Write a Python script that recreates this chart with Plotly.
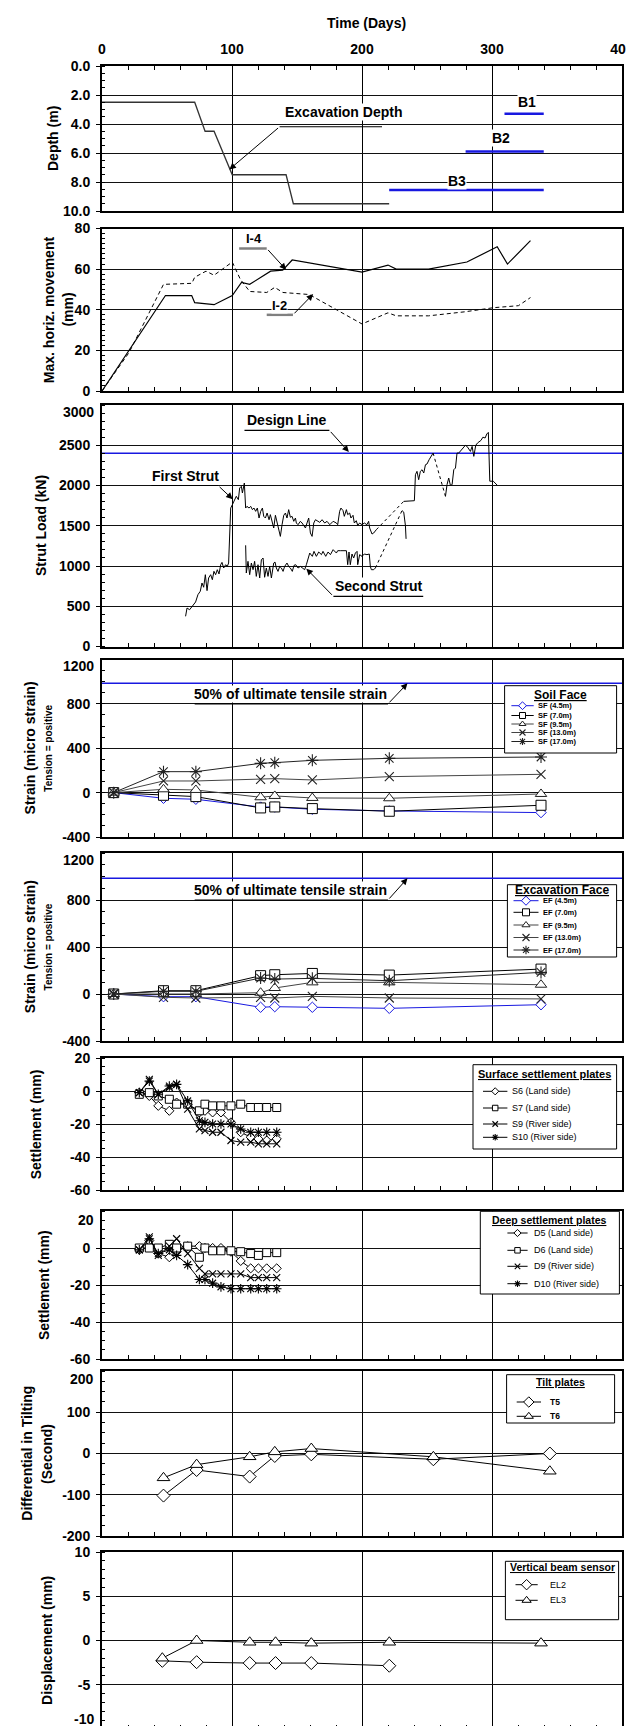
import plotly.graph_objects as go

# ======================= DATA =======================
# Panel 1: excavation depth (m) vs time (days)
exc_days = [0, 71.3, 79.3, 86.2, 100.2, 141.6, 147.2, 220.9]
exc_depth = [2.5, 2.5, 4.5, 4.5, 7.5, 7.5, 9.5, 9.5]
b_labels = ["B1", "B2", "B3"]
b_start = [309.6, 279.7, 220.9]
b_end = [339.8, 339.8, 339.8]
b_depth = [3.3, 5.9, 8.55]

# Panel 2: max horizontal movement (mm)
i4_days = [0, 48.8, 69.0, 71.3, 86.2, 100.2, 107.3, 113.6, 129.7, 139.0, 146.3, 200.0, 220.0, 226.3, 251.2, 280.7, 304.0, 311.9, 329.6]
i4_vals = [0, 47.0, 47.0, 43.5, 42.5, 47.0, 53.5, 52.5, 59.0, 59.5, 64.5, 58.5, 62.0, 60.0, 60.0, 63.5, 71.0, 62.5, 74.0]
i2_days = [0, 20.9, 47.3, 69.1, 71.3, 80.0, 86.2, 100.2, 106.4, 113.6, 126.7, 132.9, 139.1, 159.4, 200.0, 220.0, 226.3, 251.2, 279.2, 301.0, 320.3, 329.6]
i2_vals = [0, 19.0, 52.5, 53.0, 56.0, 59.0, 57.0, 63.5, 55.0, 49.0, 48.5, 51.0, 48.5, 47.5, 33.0, 38.5, 37.0, 37.0, 39.0, 41.0, 42.0, 46.0]

# Panel 3: strut load (kN)
design_load = 2400
fsA_days = [64.3, 65.4, 67.4, 70.0, 72.0, 73.8, 75.6, 76.9, 78.2, 79.5, 80.8, 82.0, 83.6, 84.9, 86.1, 87.4, 88.7, 90.0, 91.3, 92.3,
            93.6, 95.1, 96.4, 97.4, 98.2, 99.0, 100.3, 101.8, 103.3, 104.9, 105.9, 107.2, 108.0, 109.5, 110.5, 111.5, 113.1, 114.4, 115.7, 116.9,
            118.2, 119.5, 120.8, 122.1, 123.4, 124.4, 125.7, 127.0, 128.5, 129.5, 130.8, 132.1, 133.4, 134.6, 135.9, 137.2, 138.5, 139.8, 141.1, 142.3,
            143.6, 144.9, 146.2, 147.5, 148.8, 149.5, 150.8, 152.6, 153.9, 155.2, 156.5, 157.7, 159.0, 160.3, 161.6, 162.9, 164.2, 165.4, 167.5, 169.3,
            171.3, 173.1, 175.2, 177.8, 180.3, 181.3, 182.8, 183.8, 185.4, 186.4, 188.0, 189.0, 190.5, 191.5, 193.1, 194.1, 195.6, 196.7, 198.2, 200.0,
            201.8, 203.8, 205.1, 205.9, 207.7, 209.0, 211.0]
fsA_vals = [375, 478, 457, 520, 553, 644, 686, 789, 736, 892, 694, 851, 892, 830, 934, 892, 954, 901, 1016, 1045,
            975, 1016, 995, 1037, 1472, 1720, 1762, 1824, 1866, 1824, 1969, 1990, 1907, 2031, 1720, 1741, 1720, 1741, 1700, 1720,
            1679, 1720, 1596, 1679, 1720, 1617, 1596, 1658, 1575, 1638, 1534, 1472, 1630, 1555, 1451, 1368, 1513, 1630, 1658, 1596,
            1700, 1605, 1617, 1555, 1596, 1534, 1513, 1555, 1534, 1493, 1472, 1534, 1596, 1410, 1368, 1534, 1575, 1563, 1542, 1575,
            1534, 1555, 1513, 1555, 1534, 1513, 1679, 1720, 1688, 1617, 1700, 1638, 1658, 1596, 1630, 1534, 1563, 1505, 1534, 1513,
            1534, 1513, 1555, 1472, 1397, 1410, 1451]
fsB_days = [232.1, 240.3, 241.1, 242.3, 243.6, 244.9, 246.2, 247.5, 248.8, 250.0, 251.6, 253.1, 254.7]
fsB_vals = [1803, 1811, 2134, 2176, 2072, 2176, 2196, 2155, 2258, 2267, 2320, 2362, 2403]
fsC_days = [264.2, 265.4, 266.7, 268.0, 269.3, 270.6, 271.9, 273.1, 274.4, 279.5, 280.8, 283.4, 284.7, 286.0, 287.5, 289.0,
            291.5, 293.0, 294.7, 296.0, 297.2, 298.3, 301.0, 302.0, 304.0]
fsC_vals = [1865, 2010, 2093, 2002, 2010, 2196, 2217, 2403, 2403, 2499, 2486, 2424, 2486, 2362, 2500, 2530,
            2560, 2600, 2590, 2640, 2660, 2053, 2053, 2040, 2004]
ssA_days = [110.5, 111.0, 112.3, 113.6, 114.9, 116.2, 117.4, 118.7, 120.0, 121.3, 122.6, 123.9, 125.1, 126.4, 127.7, 129.0,
            130.3, 132.1, 133.1, 134.1, 135.4, 136.7, 138.0, 139.3, 140.5, 142.3, 143.6, 144.9, 146.4, 147.7, 149.0, 150.8,
            152.6, 154.7, 155.9, 157.2, 158.5, 159.8, 161.8, 163.1, 164.9, 166.7, 168.8, 170.0, 172.1, 173.9, 175.7, 177.8,
            180.3, 181.3, 183.3, 185.9, 188.0, 189.0, 190.0, 191.0, 192.3, 193.6, 194.9, 196.2, 196.7, 198.2, 200.0, 201.8,
            203.8, 205.6, 206.4, 207.2, 209.0, 210.3]
ssA_vals = [1257, 913, 1058, 892, 1037, 954, 1058, 871, 1016, 851, 1078, 1099, 860, 975, 871, 995,
            851, 1037, 1049, 975, 933, 995, 975, 933, 995, 1037, 995, 975, 933, 1008, 1016, 975,
            995, 966, 954, 1016, 1099, 1161, 1120, 1182, 1120, 1174, 1141, 1182, 1120, 1174, 1141, 1203,
            1161, 1190, 1190, 1190, 1190, 1016, 1174, 1016, 1149, 1099, 1161, 1182, 1016, 1141, 1120, 1149,
            1141, 1149, 995, 954, 954, 975]
ssB_days = [230.8, 232.1, 233.4, 233.9]
ssB_vals = [1689, 1669, 1503, 1337]

# Panels 4 & 5: strain (micro strain)
ult_strain = 985
strain_days = [9.0, 47.3, 72.2, 122.0, 132.9, 161.8, 221.0, 337.7]
sf_names = ["SF (4.5m)", "SF (7.0m)", "SF (9.5m)", "SF (13.0m)", "SF (17.0m)"]
sf45 = [0, -51, -60, -130, -130, -150, -165, -180]
sf70 = [0, -24, -36, -138, -129, -144, -168, -114]
sf95 = [0, 30, 24, -42, -30, -48, -51, -12]
sf130 = [0, 105, 105, 120, 126, 114, 144, 165]
sf170 = [0, 189, 189, 264, 270, 291, 309, 321]
ef_names = ["EF (4.5m)", "EF (7.0m)", "EF (9.5m)", "EF (13.0m)", "EF (17.0m)"]
ef45 = [0, -23, -23, -113, -108, -113, -122, -91]
ef70 = [0, 28, 28, 156, 164, 175, 161, 212]
ef95 = [0, 0, 0, 11, 51, 99, 99, 79]
ef130 = [0, -28, -34, -28, -34, -20, -34, -42]
ef170 = [0, 23, 23, 136, 127, 133, 113, 184]

# Panels 6 & 7: settlement (mm)
settle_days = [28.7, 36.4, 43.3, 51.8, 57.4, 65.9, 74.9, 79.2, 85.1, 91.5, 99.2, 106.7, 114.4, 120.3, 126.7, 134.4]
surf_names = ["S6 (Land side)", "S7 (Land side)", "S9 (River side)", "S10 (River side)"]
s6 = [-1, -3, -9, -12, -7, -8, -13, -12, -13, -13, -19, -25, -28, -29, -30, -29]
s7 = [-2, -1, -3, -5, -8, -8, -12, -8, -9, -9, -9, -8, -10, -10, -10, -10]
s9 = [-1, 7, -2, 2, 4, -11, -23, -24, -25, -25, -30, -31, -31, -32, -32, -32]
s10 = [-1, 6, -2, 3, 4, -6, -18, -19, -20, -20, -20, -23, -25, -25, -25, -25]
deep_names = ["D5 (Land side)", "D6 (Land side)", "D9 (River side)", "D10 (River side)"]
d5 = [-1, 4, -3, -5, -2, 1, 1, 0, 0, 0, -2, -7, -11, -11, -11, -11]
d6 = [0, 0, 0, 2, 0, 1, -5, 0, -1.5, -1.5, -1.5, -2, -3, -4, -2.5, -2.5]
d9 = [-1, 6, -4, 1, 5, -3, -11, -14, -14, -14, -14, -14, -16, -16, -16, -16]
d10 = [-1, 5, -3, -1, -4, -9, -17, -17, -19, -21, -22, -22, -22, -22, -22, -22]

# Panel 8: differential tilting (seconds)
tilt_days = [47.3, 72.8, 113.6, 132.9, 161.0, 254.9, 344.5]
tilt_names = ["T5", "T6"]
t5 = [-102, -40, -56, -6, -2, -14, 0]
t6 = [-59, -27, -8, 4, 12, -8, -43]

# Panel 9: vertical beam sensor displacement (mm)
beam_names = ["EL2", "EL3"]
el2_days = [46.4, 72.8, 113.6, 133.5, 161.0, 221.0]
el2 = [-2.3, -2.45, -2.55, -2.55, -2.55, -2.85]
el3_days = [46.4, 72.8, 113.6, 133.5, 161.0, 221.0, 337.7]
el3 = [-2.0, 0.0, -0.2, -0.2, -0.3, -0.2, -0.3]

# ======================= LAYOUT =======================
W, H = 634, 1726
ML, MR = 94, 20
FONT = "Liberation Sans, Arial, sans-serif"
BLUE = "#1818e0"


def fx(px):
    return (px - ML) / (W - ML - MR)


def fy(py):
    return 1 - py / H


def xr(n):
    return "x" if n == 1 else f"x{n}"


def yr(n):
    return "y" if n == 1 else f"y{n}"


panel_px = [(58, 203), (220.5, 383), (397, 638.5), (651.5, 829), (845, 1033),
            (1050, 1182), (1203, 1351), (1363, 1528), (1544, 1721)]
y_ranges = [[10, 0], [0, 80], [0, 3000], [-400, 1200], [-400, 1200], [-60, 20], [-60, 20], [-200, 200], [-10, 10]]
y_dticks = [2, 20, 500, 400, 400, 20, 20, 100, 5]
y_minor = [0.5, 2.5, 100, 100, 100, 5, 5, 25, 1]
# edge tick labels that the original prints slightly inside the frame: (panel, value, label y in px)
edge_labels = [(3, 3000, 404), (4, 1200, 658), (5, 1200, 852), (7, 20, 1212), (8, 200, 1371), (9, -10, 1711)]

fig = go.Figure()


def add_line(n, x, y, color="black", width=1.0, dash="solid"):
    fig.add_trace(go.Scatter(x=x, y=y, mode="lines", line=dict(color=color, width=width, dash=dash),
                             xaxis=xr(n), yaxis=yr(n), showlegend=False, hoverinfo="skip"))


def marker_of(st, size):
    if st["sym"] in ("x-thin", "asterisk"):
        return dict(symbol=st["sym"], size=size, color=st["mc"], line=dict(color=st["mc"], width=1.1))
    return dict(symbol=st["sym"], size=size, color="white", line=dict(color=st["mc"], width=1))


def add_series(n, x, y, st):
    fig.add_trace(go.Scatter(x=x, y=y, mode="lines+markers", line=dict(color=st["lc"], width=1),
                             marker=marker_of(st, st["size"]), xaxis=xr(n), yaxis=yr(n),
                             showlegend=False, hoverinfo="skip"))


# ---- panel 1
add_line(1, exc_days, exc_depth, color="#333333", width=1.3)
for s, e, d in zip(b_start, b_end, b_depth):
    add_line(1, [s, e], [d, d], color=BLUE, width=2.5)

# ---- panel 2
add_line(2, i4_days, i4_vals, color="black", width=1.2)
add_line(2, i2_days, i2_vals, color="black", width=1.0, dash="4px,3px")

# ---- panel 3
add_line(3, [0, 400], [design_load, design_load], color=BLUE, width=1.5)
add_line(3, fsA_days, fsA_vals)
add_line(3, [fsA_days[-1], fsB_days[0]], [fsA_vals[-1], fsB_vals[0]], dash="3px,3px")
add_line(3, fsB_days, fsB_vals)
add_line(3, [fsB_days[-1], fsC_days[0]], [fsB_vals[-1], fsC_vals[0]], dash="3px,3px")
add_line(3, fsC_days, fsC_vals)
add_line(3, ssA_days, ssA_vals)
add_line(3, [ssA_days[-1], ssB_days[0]], [ssA_vals[-1], ssB_vals[0]], dash="3px,3px")
add_line(3, ssB_days, ssB_vals)

# ---- panels 4 & 5
strain_styles = [
    dict(sym="diamond", mc=BLUE, lc=BLUE, size=8),
    dict(sym="square", mc="black", lc="black", size=10),
    dict(sym="triangle-up", mc="#222222", lc="#444444", size=10),
    dict(sym="x-thin", mc="#222222", lc="#444444", size=9),
    dict(sym="asterisk", mc="#222222", lc="#222222", size=10),
]
for n, series in ((4, [sf45, sf70, sf95, sf130, sf170]), (5, [ef45, ef70, ef95, ef130, ef170])):
    add_line(n, [0, 400], [ult_strain, ult_strain], color=BLUE, width=1.5)
    for vals, st in zip(series, strain_styles):
        add_series(n, strain_days, vals, st)

# ---- panels 6 & 7
settle_styles = [
    dict(sym="diamond", mc="black", lc="black", size=7),
    dict(sym="square", mc="black", lc="black", size=8),
    dict(sym="x-thin", mc="black", lc="black", size=7),
    dict(sym="asterisk", mc="black", lc="black", size=8),
]
for vals, st in zip([s6, s7, s9, s10], settle_styles):
    add_series(6, settle_days, vals, st)
for vals, st in zip([d5, d6, d9, d10], settle_styles):
    add_series(7, settle_days, vals, st)

# ---- panel 8 & 9
pair_styles = [
    dict(sym="diamond", mc="black", lc="black", size=10),
    dict(sym="triangle-up", mc="black", lc="black", size=11),
]
add_series(8, tilt_days, t5, pair_styles[0])
add_series(8, tilt_days, t6, pair_styles[1])
add_series(9, el2_days, el2, pair_styles[0])
add_series(9, el3_days, el3, pair_styles[1])


def ann_font(size, bold=True):
    return dict(family=FONT, size=size, color="black", weight="bold" if bold else "normal")


def fmt(n, v):
    return f"{v:.1f}" if n == 1 else f"{v:g}"


# ---- axes
tickfont = dict(family=FONT, size=14, color="black", weight="bold")
for i in range(9):
    n = i + 1
    top, bot = panel_px[i]
    lo, hi = min(y_ranges[i]), max(y_ranges[i])
    skip = [v for (p, v, _) in edge_labels if p == n]
    k = 0
    tv = []
    while lo + k * y_dticks[i] <= hi + 1e-9:
        v = lo + k * y_dticks[i]
        if v not in skip:
            tv.append(v)
        k += 1
    tt = [fmt(n, v) for v in tv]
    xa = dict(type="linear", domain=[0, 1], anchor=yr(n), range=[0, 400], dtick=100, tick0=0, showgrid=True,
              gridcolor="black", gridwidth=1, showline=True, linecolor="black", linewidth=2,
              mirror=True, ticks="inside", ticklen=5, tickcolor="black", zeroline=False,
              showticklabels=(n == 1), side="top" if n == 1 else "bottom", tickfont=tickfont,
              ticklabelstandoff=4,
              minor=dict(dtick=20, ticks="inside", ticklen=4, tickcolor="black", showgrid=False))
    ya = dict(type="linear", domain=[fy(bot), fy(top)], anchor=xr(n), range=y_ranges[i],
              tickmode="array", tickvals=tv, ticktext=tt, ticklabelstandoff=3,
              showgrid=True, gridcolor="#111111", gridwidth=1, showline=True, linecolor="black",
              linewidth=2, mirror=True, ticks="outside", ticklen=4, tickcolor="black", zeroline=False,
              tickfont=tickfont,
              minor=dict(tickmode="linear", tick0=0, dtick=y_minor[i], ticks="inside", ticklen=3,
                         tickcolor="black", showgrid=False))
    fig.layout[("xaxis" if n == 1 else f"xaxis{n}")] = xa
    fig.layout[("yaxis" if n == 1 else f"yaxis{n}")] = ya

for p, v, py in edge_labels:
    fig.add_annotation(xref="paper", yref="paper", x=fx(ML - 7.5), y=fy(py), text=fmt(p, v), showarrow=False,
                       font=tickfont, xanchor="right", yanchor="middle", borderpad=0)

# overlay pixel axes for the hand-built legends
fig.layout["xaxis10"] = dict(domain=[0, 1], range=[ML, W - MR], visible=False, anchor="y10", fixedrange=True)
fig.layout["yaxis10"] = dict(domain=[0, 1], range=[H, 0], visible=False, anchor="x10", fixedrange=True)

# ---- titles
fig.add_annotation(xref="paper", yref="paper", x=fx(358), y=fy(15), text="Time (Days)", showarrow=False,
                   font=ann_font(14), xanchor="center", yanchor="middle")
ytitles = [
    (1, "Depth (m)", 44.5, 14),
    (2, "Max. horiz. movement", 40.4, 14), (2, "(mm)", 59.8, 14),
    (3, "Strut Load (kN)", 32.3, 14),
    (4, "Strain (micro strain)", 22.2, 14), (4, "Tension = positive", 40.4, 10),
    (5, "Strain (micro strain)", 22.2, 14), (5, "Tension = positive", 40.4, 10),
    (6, "Settlement (mm)", 28.3, 14),
    (7, "Settlement (mm)", 36.0, 14),
    (8, "Differential in Tilting", 18.2, 14), (8, "(Second)", 38.4, 14),
    (9, "Displacement (mm)", 38.4, 14),
]
for n, txt, px, sz in ytitles:
    top, bot = panel_px[n - 1]
    fig.add_annotation(xref="paper", yref="paper", x=fx(px), y=fy((top + bot) / 2), text=txt, textangle=-90,
                       showarrow=False, font=ann_font(sz), xanchor="center", yanchor="middle")


def callout(n, text, tx, ux0, ux1, uy, tip, from_left, ty=None, size=14, ulc="black", ulw=1.2):
    xx, yy = xr(n), yr(n)
    if ty is None:
        fig.add_annotation(xref=xx, yref=yy, x=tx, y=uy, yshift=1, text=text, showarrow=False, font=ann_font(size),
                           bgcolor="white", borderpad=0, xanchor="center", yanchor="bottom")
    else:
        fig.add_annotation(xref=xx, yref=yy, x=tx, y=ty, text=text, showarrow=False, font=ann_font(size),
                           bgcolor="white", borderpad=0, xanchor="center", yanchor="middle")
    fig.add_shape(type="line", xref=xx, yref=yy, x0=ux0, x1=ux1, y0=uy, y1=uy, line=dict(color=ulc, width=ulw))
    sx = ux0 if from_left else ux1
    fig.add_annotation(xref=xx, yref=yy, x=tip[0], y=tip[1], ax=sx, ay=uy, axref=xx, ayref=yy, text="",
                       showarrow=True, arrowhead=2, arrowsize=1.3, arrowwidth=1, arrowcolor="black", standoff=0)


callout(1, "Excavation Depth", 185.8, 136.6, 215.4, 4.19, (98, 7.13), True, ty=3.15)
for lab, tx, ty in zip(b_labels, [326.8, 306.6, 273.0], [2.48, 4.94, 7.93]):
    fig.add_annotation(xref="x", yref="y", x=tx, y=ty, text=lab, showarrow=False, font=ann_font(14),
                       bgcolor="white", borderpad=0, xanchor="center", yanchor="middle")
callout(2, "I-4", 116.7, 105.5, 126.7, 70.2, (141.6, 59.7), False, size=13, ulc="#808080", ulw=2.5)
callout(2, "I-2", 136.5, 126.7, 146.9, 37.5, (162.4, 47.7), False, size=13, ulc="#808080", ulw=2.5)
callout(3, "Design Line", 142.2, 109.6, 174.9, 2685, (189.9, 2416), False)
callout(3, "First Strut", 64.4, 38.0, 89.3, 2000, (100.5, 1830), False)
callout(3, "Second Strut", 212.9, 178.0, 247.1, 623, (157.2, 967), True)
callout(4, "50% of ultimate tensile strain", 145.3, 71.3, 220.0, 800, (235.0, 985), False)
callout(5, "50% of ultimate tensile strain", 145.3, 71.3, 220.0, 800, (235.0, 985), False)


# ---- hand-built legends (pixel overlay axes)
def add_legend(box, title, title_y, title_size, names, styles, ys, sx, tx, fsize, bold, msize):
    x0, y0, x1, y1 = box
    fig.add_trace(go.Scatter(x=[x0, x1, x1, x0, x0], y=[y0, y0, y1, y1, y0], mode="lines", fill="toself",
                             fillcolor="white", line=dict(color="black", width=1), xaxis="x10", yaxis="y10",
                             showlegend=False, hoverinfo="skip"))
    fig.add_annotation(xref="x10", yref="y10", x=(x0 + x1) / 2, y=title_y, text=f"<u>{title}</u>",
                       showarrow=False, font=ann_font(title_size), xanchor="center", yanchor="middle")
    for name, st, ey in zip(names, styles, ys):
        fig.add_trace(go.Scatter(x=[sx[0], sx[2]], y=[ey, ey], mode="lines", line=dict(color=st["lc"], width=1),
                                 xaxis="x10", yaxis="y10", showlegend=False, hoverinfo="skip"))
        fig.add_trace(go.Scatter(x=[sx[1]], y=[ey], mode="markers", marker=marker_of(st, msize),
                                 xaxis="x10", yaxis="y10", showlegend=False, hoverinfo="skip"))
        fig.add_annotation(xref="x10", yref="y10", x=tx, y=ey, text=name, showarrow=False,
                           font=ann_font(fsize, bold), xanchor="left", yanchor="middle")


add_legend((496.6, 677.7, 608.6, 745.0), "Soil Face", 686.7, 12, sf_names, strain_styles,
           [697.7, 707.5, 716.0, 724.5, 733.5], (503.4, 514.5, 525.7), 527.7, 7.5, True, 6)
add_legend((499.4, 876.7, 608.6, 949.0), "Excavation Face", 881.7, 12, ef_names, strain_styles,
           [892.7, 904.3, 917.0, 929.5, 942.0], (505.5, 518.0, 530.5), 533.0, 7.5, True, 7)
add_legend((465.0, 1056.7, 608.6, 1141.0), "Surface settlement plates", 1065.7, 11, surf_names, settle_styles,
           [1083.3, 1100.0, 1116.0, 1129.3], (475.0, 487.2, 499.4), 502.0, 9, False, 5.5)
add_legend((472.3, 1203.3, 611.4, 1286.0), "Deep settlement plates", 1211.7, 10.5, deep_names, settle_styles,
           [1225.0, 1242.3, 1258.3, 1275.7], (499.4, 509.5, 519.6), 524.0, 9, False, 5.5)
add_legend((498.6, 1366.7, 606.6, 1415.0), "Tilt plates", 1374.3, 10.5, tilt_names, pair_styles,
           [1394.0, 1408.3], (508.7, 520.8, 533.0), 539.8, 8.5, True, 8)
add_legend((497.4, 1553.3, 610.6, 1611.7), "Vertical beam sensor", 1559.0, 10.5, beam_names, pair_styles,
           [1576.7, 1592.3], (507.5, 518.6, 529.7), 539.8, 9, False, 8)

fig.update_layout(width=W, height=H, margin=dict(l=ML, r=MR, t=0, b=0, autoexpand=False),
                  showlegend=False, plot_bgcolor="rgba(0,0,0,0)", paper_bgcolor="white",
                  font=dict(family=FONT, color="black"))

fig.write_html("out.html")
